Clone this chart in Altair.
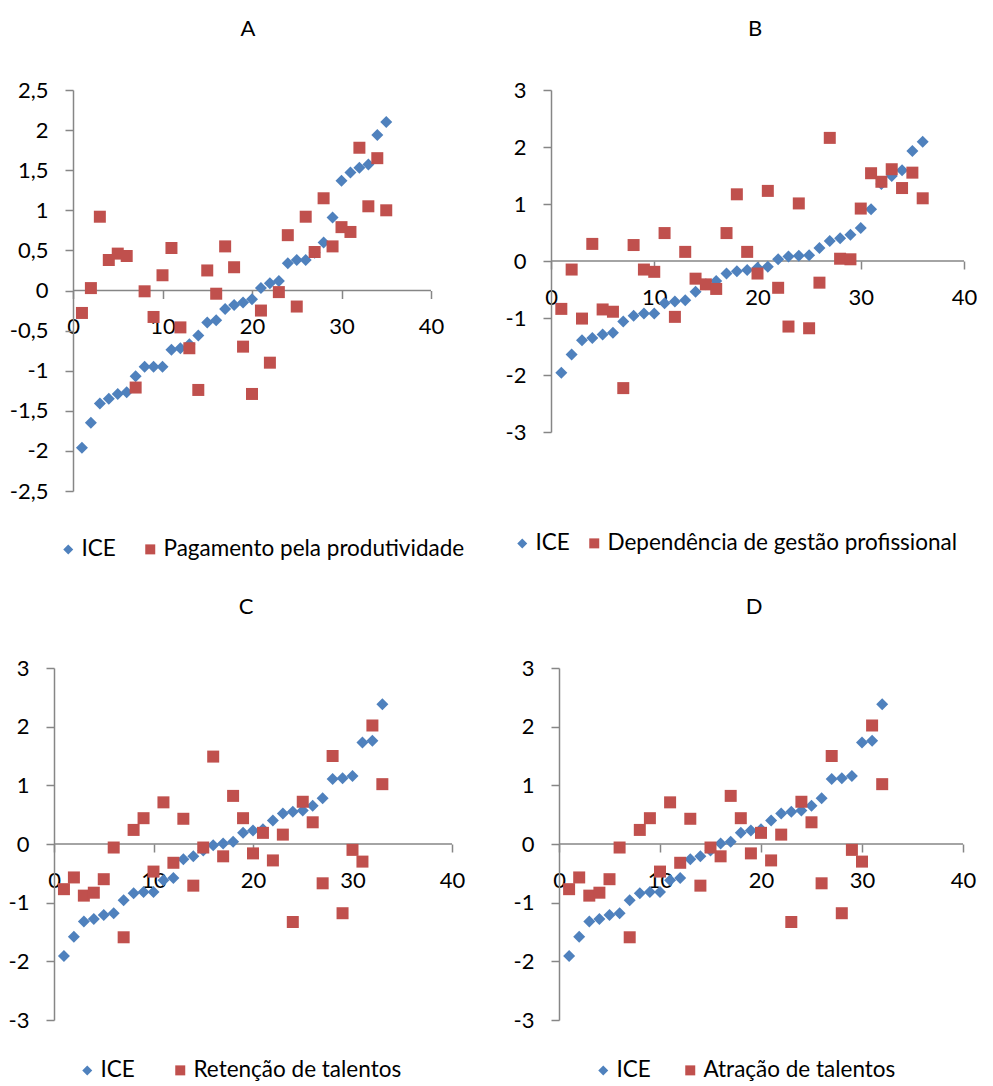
import altair as alt
import pandas as pd

# ---------------- data ----------------
a_ice = [-1.96, -1.65, -1.41, -1.35, -1.29, -1.27, -1.07, -0.95, -0.95, -0.95,
         -0.74, -0.72, -0.67, -0.56, -0.40, -0.37, -0.23, -0.18, -0.15, -0.11,
         0.03, 0.09, 0.12, 0.34, 0.38, 0.38, 0.47, 0.60, 0.91, 1.37,
         1.47, 1.53, 1.57, 1.94, 2.10]
a_pag = [-0.28, 0.03, 0.92, 0.38, 0.46, 0.43, -1.21, -0.01, -0.33, 0.19,
         0.53, -0.46, -0.72, -1.24, 0.25, -0.04, 0.55, 0.29, -0.70, -1.29,
         -0.25, -0.90, -0.02, 0.69, -0.20, 0.92, 0.48, 1.15, 0.55, 0.79,
         0.73, 1.78, 1.05, 1.65, 1.00]

b_ice = [-1.96, -1.64, -1.39, -1.35, -1.29, -1.26, -1.06, -0.96, -0.92, -0.92,
         -0.74, -0.71, -0.69, -0.54, -0.41, -0.35, -0.22, -0.18, -0.16, -0.12,
         -0.10, 0.03, 0.08, 0.09, 0.10, 0.23, 0.35, 0.40, 0.46, 0.58,
         0.91, 1.35, 1.49, 1.59, 1.93, 2.09]
b_dep = [-0.84, -0.15, -1.01, 0.30, -0.85, -0.89, -2.23, 0.28, -0.15, -0.19,
         0.49, -0.98, 0.16, -0.31, -0.41, -0.49, 0.49, 1.17, 0.16, -0.22,
         1.23, -0.47, -1.15, 1.01, -1.18, -0.38, 2.16, 0.04, 0.03, 0.92,
         1.54, 1.39, 1.61, 1.28, 1.55, 1.10]

c_ice = [-1.91, -1.58, -1.32, -1.28, -1.21, -1.18, -0.96, -0.84, -0.82, -0.82,
         -0.62, -0.58, -0.26, -0.21, -0.11, -0.02, 0.01, 0.04, 0.19, 0.23,
         0.25, 0.40, 0.52, 0.55, 0.57, 0.65, 0.78, 1.11, 1.12, 1.16,
         1.73, 1.76, 2.38]
c_ret = [-0.77, -0.57, -0.88, -0.83, -0.60, -0.06, -1.59, 0.24, 0.44, -0.47,
         0.71, -0.32, 0.43, -0.71, -0.06, 1.49, -0.21, 0.82, 0.44, -0.16,
         0.19, -0.28, 0.16, -1.33, 0.72, 0.37, -0.67, 1.50, -1.18, -0.10,
         -0.30, 2.02, 1.02]

d_ice = [-1.91, -1.58, -1.32, -1.28, -1.21, -1.18, -0.96, -0.84, -0.82, -0.82,
         -0.62, -0.58, -0.26, -0.21, -0.11, 0.01, 0.04, 0.19, 0.23,
         0.25, 0.40, 0.52, 0.55, 0.57, 0.65, 0.78, 1.11, 1.12, 1.16,
         1.73, 1.76, 2.38]
d_atr = [-0.77, -0.57, -0.88, -0.83, -0.60, -0.06, -1.59, 0.24, 0.44, -0.47,
         0.71, -0.32, 0.43, -0.71, -0.06, -0.21, 0.82, 0.44, -0.16,
         0.19, -0.28, 0.16, -1.33, 0.72, 0.37, -0.67, 1.50, -1.18, -0.10,
         -0.30, 2.02, 1.02]

x_ticks = [0, 10, 20, 30, 40]
y_ticks_a = [-2.5, -2, -1.5, -1, -0.5, 0, 0.5, 1, 1.5, 2, 2.5]
y_ticks_b = [-3, -2, -1, 0, 1, 2, 3]

BLUE = "#4F81BD"
RED = "#C0504D"
GREY = "#868686"
FONT = "Lato"


def panel(title, ice, other, other_name, ydom, yvals, width, height, xmin,
          yoff, tdx, lx, ly, colpad):
    n1, n2 = len(ice), len(other)
    df = pd.DataFrame({
        "x": list(range(1, n1 + 1)) + list(range(1, n2 + 1)),
        "v": ice + other,
        "s": ["ICE"] * n1 + [other_name] * n2,
    })
    xs = alt.Scale(domain=[xmin, 40], nice=False, zero=False)
    ys = alt.Scale(domain=ydom, nice=False, zero=False)
    xaxis = alt.Axis(values=x_ticks, domain=False, tickSize=8, labelPadding=18,
                     offset=-height / 2, grid=False, title=None, labelFlush=False,
                     labelOverlap=False)
    yaxis = alt.Axis(values=yvals, tickSize=8, labelPadding=17, offset=yoff,
                     grid=False, title=None, labelFlush=False, labelOverlap=False,
                     labelExpr="replace(toString(datum.value), '.', ',')")
    X = alt.X("x:Q", scale=xs, axis=xaxis)
    Y = alt.Y("v:Q", scale=ys, axis=yaxis)
    leg = alt.Legend(title=None, orient="none", legendX=lx, legendY=ly,
                     direction="horizontal", symbolSize=100, labelOffset=2,
                     columnPadding=colpad, symbolStrokeWidth=0, labelLimit=0)
    dom = ["ICE", other_name]
    pts = alt.Chart(df).mark_point(filled=True, size=144, opacity=1).encode(
        x=X, y=Y,
        color=alt.Color("s:N", scale=alt.Scale(domain=dom, range=[BLUE, RED]), legend=leg),
        shape=alt.Shape("s:N", scale=alt.Scale(domain=dom, range=["diamond", "square"]), legend=leg),
        order=alt.Order("o:Q"),
    ).transform_calculate(o="datum.s == 'ICE' ? 0 : 1")
    rule = alt.Chart(pd.DataFrame({"x": [0], "x2": [40], "v": [0]})).mark_rule(
        color=GREY, strokeWidth=1.5).encode(x=X, x2="x2:Q", y=Y)
    return alt.layer(rule, pts).properties(
        width=width, height=height,
        title=alt.TitleParams(title, frame="group", anchor="middle", offset=38, dx=tdx),
    )


A = panel("A", a_ice, a_pag, "Pagamento pela produtividade", [-2.5, 2.5], y_ticks_a,
          377, 401, -19 / 8.95, -19, 5.5, 3, 448, 23)
B = panel("B", b_ice, b_dep, "Dependência de gestão profissional", [-3, 3], y_ticks_b,
          413, 342, 0, 0, -2.5, -40, 442, 13)
C = panel("C", c_ice, c_ret, "Retenção de talentos", [-3, 3], y_ticks_b,
          398, 352, 0, 0, -7, 22, 391, 34)
D = panel("D", d_ice, d_atr, "Atração de talentos", [-3, 3], y_ticks_b,
          412, 352, -8 / 10.1, -8, -3, 41, 391, 28)

chart = alt.concat(A, B, C, D, columns=2, spacing={"row": 177, "column": 99},
                   bounds="flush", align="each").resolve_scale(
    color="independent", shape="independent").properties(
    padding={"left": 0, "top": 10, "right": 0, "bottom": 0}
).configure_view(stroke=None).configure_axis(
    labelFont=FONT, labelFontSize=22, labelColor="black",
    domainColor=GREY, tickColor=GREY, domainWidth=1.5, tickWidth=1.5,
).configure_legend(
    labelFont=FONT, labelFontSize=22.5, labelColor="black",
).configure_title(
    font=FONT, fontSize=22, fontWeight="normal", color="black",
)

chart.save("out.html", embed_options={"renderer": "svg", "actions": False})
